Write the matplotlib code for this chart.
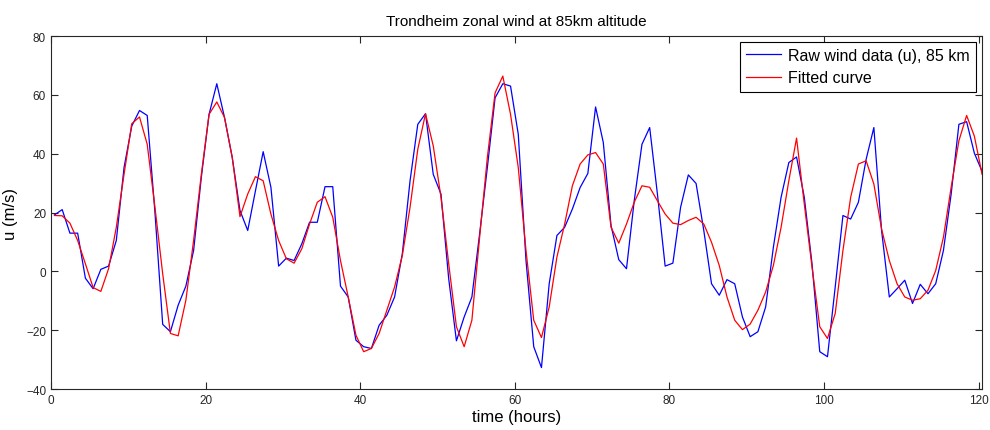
import numpy as np
import matplotlib.pyplot as plt

plt.rcParams['font.family'] = ['Liberation Sans', 'DejaVu Sans']

# hourly samples, first one just after t=0
hours = np.arange(121) + 0.45

# raw zonal wind (u) at 85 km, m/s
u_raw = [19.2, 21, 13, 13, -2.3, -5.9, 0.7, 1.8, 10.5, 35.3,
         49.4, 54.7, 53, 20, -18, -20.5, -11.5, -5, 7.1, 32,
         53.4, 63.8, 52.3, 38.7, 20.7, 13.9, 27.4, 40.7, 28.6, 1.8,
         4.5, 3.7, 9.4, 16.7, 16.7, 28.8, 28.8, -5, -8.7, -23.4,
         -25.6, -26.2, -18.3, -14.9, -8.7, 6, 30.8, 50, 53.6, 33,
         26.3, -2.5, -23.6, -15.5, -8.7, 12.8, 35.3, 59, 63.8, 63,
         46.6, 3.7, -25.6, -32.7, -4.2, 12.2, 15, 21.2, 28.5, 33.3,
         55.9, 43.8, 15.6, 4, 0.9, 24, 43.2, 48.9, 26.3, 1.8,
         2.8, 21.8, 32.8, 29.9, 13.9, -4.2, -8.1, -2.8, -4.2, -15.5,
         -22.2, -20.5, -12.1, 8.2, 25.2, 37, 38.9, 25.2, 2.6, -27.3,
         -29, -5.3, 19, 17.8, 23.5, 38.1, 48.9, 13.9, -8.7, -5.9,
         -3, -10.9, -4.4, -7.6, -4.2, 7.1, 26.3, 50, 50.9, 40.2,
         34]

# fitted curve at the same times
u_fit = [19, 18.9, 16.4, 10.5, 2.6, -5.5, -6.8, 0.9, 15, 33,
         50.2, 52.5, 43.2, 21.8, -0.8, -21.1, -21.9, -9.8, 10.5, 33,
         53.4, 57.6, 52.3, 38.7, 18.6, 26.3, 32.2, 30.8, 19.5, 10.5,
         4.3, 2.8, 7.7, 16.1, 23.5, 25.4, 18.4, 3.7, -8.7, -21.7,
         -27.3, -26.2, -21.1, -13.2, -5.3, 5.4, 21.8, 41.5, 53.6, 42.7,
         25.2, 2.6, -18.8, -25.6, -16.6, 11.6, 38.7, 60.7, 66.4, 53.4,
         35.3, 7.1, -16.6, -22.5, -12.1, 4.9, 16.1, 29.1, 36.5, 39.6,
         40.4, 36.5, 15, 9.6, 16.1, 23.5, 29.1, 28.6, 24, 19.5,
         16.4, 15.9, 17.3, 18.4, 16.1, 9.9, 2, -8.7, -16.6, -19.8,
         -17.9, -13.2, -7, 2, 15, 30.8, 45.3, 22.9, 1.5, -18.8,
         -22.8, -14.3, 7.1, 25.2, 36.5, 37.6, 29.7, 14.4, 3.7, -4.2,
         -8.7, -9.8, -9.3, -6.4, 0.3, 11.6, 28.6, 44.4, 53, 46,
         33]

fig = plt.figure(figsize=(9.9, 4.31), dpi=100)
ax = fig.add_axes([0.0515, 0.095, 0.9405, 0.819])

ax.plot(hours, u_raw, color='blue', lw=0.9, label='Raw wind data (u), 85 km')
ax.plot(hours, u_fit, color='red', lw=0.9, label='Fitted curve')

ax.set_xlim(0, hours[-1])
ax.set_ylim(-40, 80)
ax.set_xticks(np.arange(0, 121, 20))
ax.set_yticks(np.arange(-40, 81, 20))
ax.tick_params(direction='in', top=True, right=True, length=5, width=0.8,
               labelsize=8.5, colors='#262626', labelcolor='#262626')
for s in ax.spines.values():
    s.set_color('#262626')
    s.set_linewidth(0.8)

ax.set_title('Trondheim zonal wind at 85km altitude', fontsize=11, pad=8)
ax.set_xlabel('time (hours)', fontsize=12, labelpad=2)
ax.set_ylabel('u (m/s)', fontsize=12, labelpad=6)

leg = ax.legend(loc='upper right', fontsize=11.5, fancybox=False, framealpha=1,
                edgecolor='black', borderaxespad=0.35, handlelength=2.2,
                handletextpad=0.45, borderpad=0.4, labelspacing=0.45)
leg.get_frame().set_linewidth(0.8)

fig.savefig('out.png', dpi=100)
